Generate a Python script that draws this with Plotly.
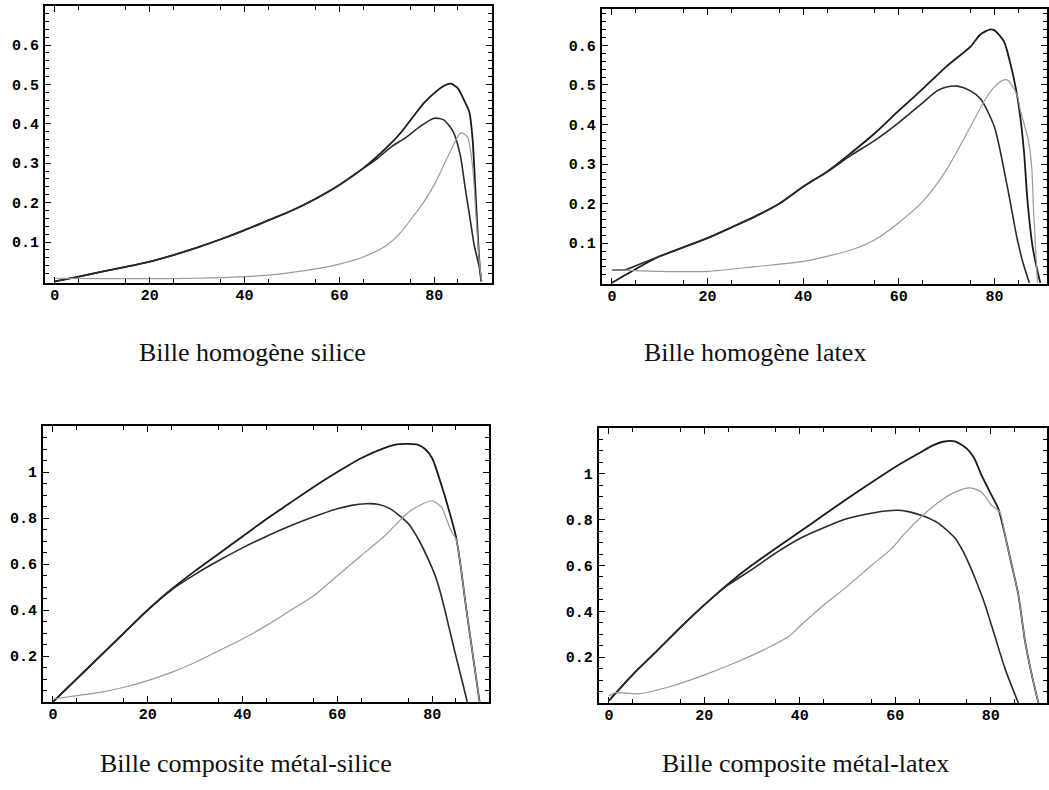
import numpy as np
import plotly.graph_objects as go

# ---------------- data ----------------
titles = ["Bille homogène silice", "Bille homogène latex",
          "Bille composite métal-silice", "Bille composite métal-latex"]

x_ticks = [0, 20, 40, 60, 80]
x_ticktext = ["0", "20", "40", "60", "80"]
y_ticks_top = [0.1, 0.2, 0.3, 0.4, 0.5, 0.6]
y_ticktext_top = ["0.1", "0.2", "0.3", "0.4", "0.5", "0.6"]
y_ticks_bot = [0.2, 0.4, 0.6, 0.8, 1.0]
y_ticktext_bot = ["0.2", "0.4", "0.6", "0.8", "1"]

# Panel 1: silice homogene
p1_xa = [0, 5, 10, 15, 20, 25, 30, 35, 40, 45, 50, 55, 60, 65, 70, 73, 76, 78, 80, 82, 83.5, 85, 86.3, 87.4, 88.1, 88.8, 89.5, 89.9]
p1_ya = [0, 0.012, 0.025, 0.037, 0.05, 0.067, 0.086, 0.107, 0.13, 0.155, 0.18, 0.21, 0.245, 0.287, 0.34, 0.378, 0.425, 0.455, 0.478, 0.496, 0.502, 0.49, 0.46, 0.43, 0.36, 0.206, 0.054, 0]
p1_xb = [0, 5, 10, 15, 20, 25, 30, 35, 40, 45, 50, 55, 60, 65, 68, 71, 74, 77, 80, 82, 84, 85.5, 86.5, 87.5, 88.5, 89.5, 90]
p1_yb = [0, 0.012, 0.025, 0.037, 0.05, 0.067, 0.086, 0.107, 0.13, 0.155, 0.18, 0.21, 0.245, 0.287, 0.312, 0.342, 0.365, 0.393, 0.414, 0.41, 0.38, 0.32, 0.24, 0.164, 0.088, 0.037, 0]
p1_xc = [0, 10, 20, 30, 40, 45, 50, 55, 60, 65, 70, 73, 76, 78, 80, 82, 84, 85.6, 87, 88.1, 88.8, 89.5, 90]
p1_yc = [0.008, 0.007, 0.007, 0.008, 0.012, 0.016, 0.023, 0.032, 0.044, 0.062, 0.092, 0.125, 0.172, 0.205, 0.245, 0.295, 0.345, 0.377, 0.367, 0.29, 0.17, 0.054, 0]

# Panel 2: latex homogene
p2_xa = [0, 5, 10, 15, 20, 25, 30, 35, 40, 45, 50, 55, 60, 65, 70, 75, 77, 79, 80, 82, 83.3, 84.5, 85.4, 86.2, 86.9, 88, 89, 89.6]
p2_ya = [0, 0.035, 0.067, 0.09, 0.113, 0.14, 0.168, 0.2, 0.243, 0.281, 0.328, 0.378, 0.435, 0.49, 0.547, 0.597, 0.627, 0.64, 0.638, 0.61, 0.556, 0.49, 0.42, 0.33, 0.21, 0.09, 0.03, 0]
p2_xb = [0, 2.8, 6, 10, 15, 20, 25, 30, 35, 40, 45, 50, 55, 60, 65, 68, 70, 72.3, 75, 77.1, 80, 82.7, 84.8, 86, 87.3]
p2_yb = [0.033, 0.033, 0.048, 0.067, 0.09, 0.113, 0.14, 0.168, 0.2, 0.243, 0.28, 0.322, 0.36, 0.405, 0.455, 0.485, 0.495, 0.497, 0.485, 0.465, 0.394, 0.243, 0.109, 0.05, 0]
p2_xc = [0, 5, 10, 20, 30, 40, 50, 55, 60, 65, 70, 75, 78, 80, 82, 83, 84.8, 85.4, 87.1, 87.8, 88.2, 89]
p2_yc = [0.033, 0.031, 0.029, 0.029, 0.041, 0.054, 0.083, 0.109, 0.152, 0.205, 0.286, 0.395, 0.462, 0.495, 0.513, 0.51, 0.472, 0.437, 0.36, 0.293, 0.18, 0]

# Panel 3: composite metal-silice
p3_xa = [0, 5, 10, 15, 20, 25, 30, 35, 40, 45, 50, 55, 60, 65, 70, 72.5, 75, 77, 78.5, 80, 82, 84, 85, 86, 87, 88, 89, 90]
p3_ya = [0, 0.1, 0.2, 0.3, 0.4, 0.49, 0.57, 0.645, 0.72, 0.795, 0.865, 0.935, 1.0, 1.06, 1.105, 1.12, 1.122, 1.118, 1.1, 1.06, 0.94, 0.8, 0.72, 0.593, 0.433, 0.288, 0.143, 0]
p3_xb = [0, 5, 10, 15, 20, 25, 30, 35, 40, 45, 50, 55, 60, 63, 66, 68.5, 71, 73.1, 75.2, 77.3, 79.4, 80.8, 82.2, 83.6, 85, 86.4, 87.4]
p3_yb = [0, 0.1, 0.2, 0.3, 0.4, 0.487, 0.555, 0.615, 0.67, 0.72, 0.765, 0.805, 0.84, 0.855, 0.862, 0.86, 0.842, 0.81, 0.77, 0.7, 0.61, 0.54, 0.44, 0.32, 0.2, 0.085, 0]
p3_xc = [0, 5, 10, 15, 20, 25, 30, 35, 40, 45, 50, 55, 60, 65, 70, 75, 78, 80, 82, 83, 84, 85, 86, 87, 88, 89, 90]
p3_yc = [0.013, 0.028, 0.042, 0.064, 0.093, 0.129, 0.172, 0.223, 0.274, 0.332, 0.397, 0.462, 0.549, 0.636, 0.723, 0.825, 0.861, 0.875, 0.846, 0.796, 0.745, 0.71, 0.593, 0.433, 0.288, 0.143, 0]

# Panel 4: composite metal-latex
p4_xa = [0, 5, 10, 15, 20, 25, 30, 35, 40, 45, 50, 55, 60, 65, 68, 70, 72.5, 75, 76.5, 78.1, 80.2, 81.6, 83, 84.4, 85.8, 87.2, 88.6, 90]
p4_ya = [0.01, 0.124, 0.226, 0.33, 0.428, 0.52, 0.602, 0.675, 0.747, 0.82, 0.892, 0.962, 1.03, 1.09, 1.125, 1.14, 1.142, 1.11, 1.07, 0.993, 0.906, 0.848, 0.732, 0.602, 0.472, 0.269, 0.124, 0]
p4_xb = [0, 5, 10, 15, 20, 25, 30, 35, 40, 45, 50, 55, 58, 60.7, 63, 66, 69, 72.5, 74, 75.5, 77, 78.8, 80.9, 83, 85.8]
p4_yb = [0.01, 0.124, 0.226, 0.33, 0.428, 0.515, 0.583, 0.655, 0.718, 0.765, 0.805, 0.828, 0.838, 0.841, 0.834, 0.815, 0.785, 0.72, 0.67, 0.605, 0.53, 0.43, 0.29, 0.15, 0]
p4_xc = [0, 1.4, 6.3, 13.2, 20.2, 27.2, 34.2, 37.7, 40, 44.6, 50, 55, 59.3, 62, 65.6, 69, 72.5, 75.7, 78.1, 80.2, 81.9, 83, 84.4, 85.8, 87.2, 88.6, 90]
p4_yc = [0.03, 0.045, 0.04, 0.074, 0.124, 0.182, 0.25, 0.29, 0.335, 0.42, 0.51, 0.6, 0.675, 0.74, 0.815, 0.875, 0.92, 0.939, 0.92, 0.862, 0.834, 0.732, 0.602, 0.472, 0.269, 0.124, 0]

panels = [
    (p1_xa, p1_ya, p1_xb, p1_yb, p1_xc, p1_yc),
    (p2_xa, p2_ya, p2_xb, p2_yb, p2_xc, p2_yc),
    (p3_xa, p3_ya, p3_xb, p3_yb, p3_xc, p3_yc),
    (p4_xa, p4_ya, p4_xb, p4_yb, p4_xc, p4_yc),
]

# ---------------- layout geometry ----------------
W, H = 1049, 790
def px_x(a, b):
    return [a / W, b / W]
def px_y(top, bottom):
    return [1 - bottom / H, 1 - top / H]

x_domains = [px_x(45, 493), px_x(603, 1049), px_x(43, 490), px_x(600, 1049)]
y_domains = [px_y(6, 283), px_y(9, 284), px_y(426, 702), px_y(428, 703)]
x_ranges = [[-2.1, 92.2], [-2.1, 91.0], [-2.1, 92.0], [-2.1, 91.8]]
y_ranges = [[-0.004, 0.699], [-0.003, 0.692], [0, 1.2], [0, 1.2]]

title_pos = [(253, 353), (756, 353), (246, 763), (807, 763)]

tick_font = dict(family="Liberation Mono, Courier New, monospace", size=15, color="black", weight="bold")

fig = go.Figure()
colors = ["#1a1a1a", "#2a2a2a", "#9a9a9a"]
widths = [1.8, 1.6, 1.2]

for i, pdata in enumerate(panels):
    xa = "x" if i == 0 else f"x{i+1}"
    ya = "y" if i == 0 else f"y{i+1}"
    for k in range(3):
        fig.add_trace(go.Scatter(
            x=pdata[2 * k], y=pdata[2 * k + 1], mode="lines",
            line=dict(color=colors[k], width=widths[k], shape="spline", smoothing=0.7),
            xaxis=xa, yaxis=ya, showlegend=False, hoverinfo="skip"))

layout = dict(width=W, height=H, margin=dict(l=0, r=0, t=0, b=0),
              paper_bgcolor="white", plot_bgcolor="white", showlegend=False)

for i in range(4):
    top = i < 2
    xk = "xaxis" if i == 0 else f"xaxis{i+1}"
    yk = "yaxis" if i == 0 else f"yaxis{i+1}"
    yanchor = "y" if i == 0 else f"y{i+1}"
    xanchor = "x" if i == 0 else f"x{i+1}"
    layout[xk] = dict(
        domain=x_domains[i], range=x_ranges[i], anchor=yanchor,
        showline=True, linecolor="black", linewidth=2, mirror="ticks",
        showgrid=False, zeroline=False,
        tickmode="array", tickvals=x_ticks, ticktext=x_ticktext,
        ticks="inside", ticklen=6, tickwidth=1.3, tickcolor="black",
        minor=dict(tickmode="array", tickvals=list(np.arange(5, 95, 10)),
                   ticks="inside", ticklen=4, tickwidth=1, tickcolor="black", showgrid=False),
        tickfont=tick_font, ticklabelstandoff=-3, fixedrange=True)
    yt = y_ticks_top if top else y_ticks_bot
    ytt = y_ticktext_top if top else y_ticktext_bot
    ymin = list(np.round(np.arange(0.02, 0.7, 0.02), 3)) if top else list(np.round(np.arange(0.05, 1.2, 0.05), 3))
    ymin = [v for v in ymin if all(abs(v - t) > 1e-6 for t in yt)]
    layout[yk] = dict(
        domain=y_domains[i], range=y_ranges[i], anchor=xanchor,
        showline=True, linecolor="black", linewidth=2, mirror="ticks",
        showgrid=False, zeroline=False,
        tickmode="array", tickvals=yt, ticktext=ytt,
        ticks="inside", ticklen=6, tickwidth=1.3, tickcolor="black",
        minor=dict(tickmode="array", tickvals=ymin,
                   ticks="inside", ticklen=4, tickwidth=1, tickcolor="black", showgrid=False),
        tickfont=tick_font, ticklabelstandoff=1, fixedrange=True)

fig.update_layout(**layout)

for t, (cx, cy) in zip(titles, title_pos):
    fig.add_annotation(text=t, x=cx / W, y=1 - cy / H, xref="paper", yref="paper",
                       showarrow=False, xanchor="center", yanchor="middle",
                       font=dict(family="Liberation Serif, Times New Roman, serif", size=26, color="#111111"))

fig.write_html("out.html")
